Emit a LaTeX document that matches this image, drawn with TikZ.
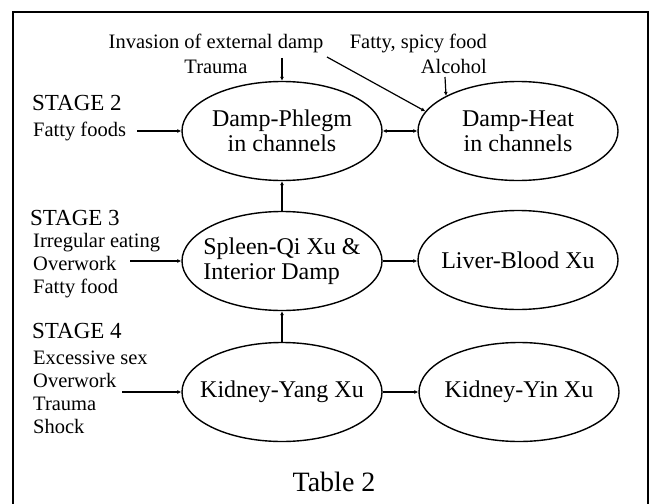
\documentclass[tikz,border=0pt]{standalone}
\usepackage{fontspec}
\setmainfont{Liberation Serif}
\usetikzlibrary{shapes.geometric,arrows.meta}
\begin{document}
\begin{tikzpicture}[x=1pt,y=-1pt,
  ell/.style={draw,ellipse,minimum width=200pt,minimum height=99pt,inner sep=0pt,line width=1.4pt},
  lab/.style={font=\fontsize{24}{25}\selectfont,align=center,inner sep=0pt},
  cause/.style={font=\fontsize{20.5}{23}\selectfont,align=left,inner sep=0pt,anchor=west},
  toptext/.style={font=\fontsize{20.5}{25}\selectfont,inner sep=0pt},
  stg/.style={font=\fontsize{23}{25}\selectfont,inner sep=0pt,anchor=west},
  tip/.tip={Latex[length=4pt,width=4pt]},
  conn/.style={line width=1.2pt,-tip},
]
\useasboundingbox (0,0) rectangle (650,503);
\draw[line width=2pt] (13,515) -- (13,12) -- (648,12) -- (648,515);

% ellipses
\node[ell] (dp) at (282,131) {};
\node[ell] (dh) at (518,131) {};
\node[ell] (sq) at (282,261) {};
\node[ell] (lb) at (518,260) {};
\node[ell] (ky) at (282,392) {};
\node[ell] (kn) at (519,392) {};

\node[lab] (dpt) at (dp) {Damp-Phlegm\\in channels};
\node[lab] (dht) at (dh) {Damp-Heat\\in channels};
\node[lab,align=left] (sqt) at (sq) {Spleen-Qi Xu \&\\Interior Damp};
\node[lab] (lbt) at (lb) {Liver-Blood Xu};
\node[lab] (kyt) at (ky) {Kidney-Yang Xu};
\node[lab] (knt) at (kn) {Kidney-Yin Xu};

% top causes
\node[toptext,align=center] (inv) at (216,54) {Invasion of external damp\\Trauma};
\node[toptext,align=right,anchor=east] (fsf) at (487,54) {Fatty, spicy food\\Alcohol};

% stage labels
\node[stg] (s2) at (32,103) {STAGE 2};
\node[cause] (c2) at (33,131) {Fatty foods};
\node[stg] (s3) at (30,218) {STAGE 3};
\node[cause] (c3) at (33,266) {Irregular eating\\Overwork\\Fatty food};
\node[stg] (s4) at (32,331) {STAGE 4};
\node[cause] (c4) at (33,392) {Excessive sex\\Overwork\\Trauma\\Shock};

\node[font=\fontsize{28}{30}\selectfont,inner sep=0pt] (tbl) at (334,482) {Table 2};

% connectors
\coordinate (tr) at (282,58);
\draw[conn] (tr) -- (dp.north);
\coordinate (dg) at (327,57);
\draw[conn] (dg) -- (dh.168);
\coordinate (al) at (445,77);
\draw[conn] (al) -- (dh.154);
\draw[conn,tip-tip] (dp.east) -- (dh.west);
\draw[conn] (sq.north) -- (dp.south);
\draw[conn] (ky.north) -- (sq.south);
\draw[conn] (sq.east) -- (lb.west |- sq.east);
\draw[conn] (ky.east) -- (kn.west);
\coordinate (f2) at (137,131);
\draw[conn] (f2) -- (dp.west);
\coordinate (f3) at (130,261);
\draw[conn] (f3) -- (sq.west);
\coordinate (f4) at (122,392);
\draw[conn] (f4) -- (ky.west);
\end{tikzpicture}
\end{document}
